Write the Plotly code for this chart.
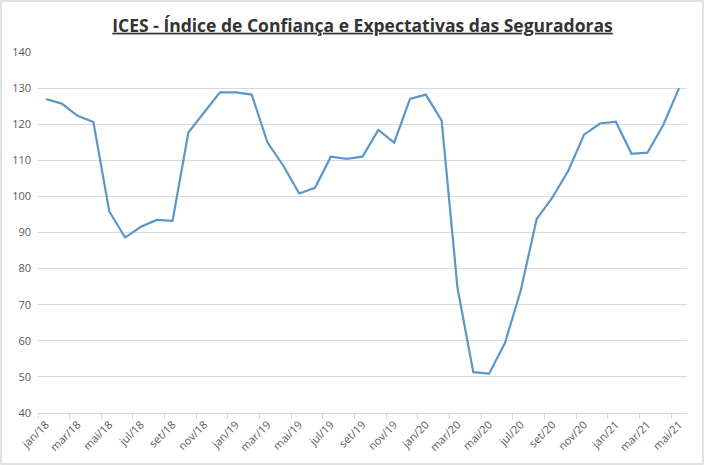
import plotly.graph_objects as go

# meses (jan/18 a mai/21)
meses = ["jan/18", "fev/18", "mar/18", "abr/18", "mai/18", "jun/18", "jul/18", "ago/18",
         "set/18", "out/18", "nov/18", "dez/18",
         "jan/19", "fev/19", "mar/19", "abr/19", "mai/19", "jun/19", "jul/19", "ago/19",
         "set/19", "out/19", "nov/19", "dez/19",
         "jan/20", "fev/20", "mar/20", "abr/20", "mai/20", "jun/20", "jul/20", "ago/20",
         "set/20", "out/20", "nov/20", "dez/20",
         "jan/21", "fev/21", "mar/21", "abr/21", "mai/21"]

# valores do ICES
ices = [127.0, 125.7, 122.3, 120.6, 95.9, 88.6, 91.6, 93.5, 93.2, 117.7, 123.3, 128.8,
        128.8, 128.2, 114.9, 108.5, 100.8, 102.4, 111.0, 110.4, 111.0, 118.4, 114.9, 127.0,
        128.2, 121.0, 74.7, 51.3, 50.9, 59.4, 74.0, 93.7, 99.7, 107.1, 117.1, 120.2,
        120.7, 111.8, 112.1, 119.8, 130.0]

titulo = "ICES - Índice de Confiança e Expectativas das Seguradoras"

fig = go.Figure(go.Scatter(x=meses, y=ices, mode="lines",
                           line=dict(color="#5b97c9", width=2.2)))

fig.update_layout(
    width=704, height=465,
    margin=dict(l=38, r=17, t=52, b=52),
    paper_bgcolor="white", plot_bgcolor="white",
    showlegend=False,
    font=dict(family="Open Sans", color="#595959", size=11),
    title=dict(text="<u><b>" + titulo + "</b></u>", x=0.5, xref="paper", xanchor="center",
               y=0.945, yanchor="middle",
               font=dict(family="Open Sans", size=17.5, color="#333333")),
)

fig.update_xaxes(type="category", tickmode="linear", dtick=2, tickson="boundaries",
                 tickangle=-45, ticks="outside", ticklen=5, tickcolor="#d9d9d9",
                 showline=True, linecolor="#d9d9d9", linewidth=1,
                 showgrid=False, range=[-0.5, 40.5])

fig.update_yaxes(range=[40, 140], dtick=10, showgrid=True, gridcolor="#d9d9d9",
                 gridwidth=1, zeroline=False, showline=False, ticks="",
                 ticklabelstandoff=6)

# borda da área do gráfico
fig.add_shape(type="rect", xref="paper", yref="paper",
              x0=-37 / 649, x1=(703 - 38) / 649, y0=-51 / 360.5, y1=1 + 51 / 360.5,
              line=dict(color="#d9d9d9", width=1.5))

# sem margem do body, para a figura ocupar a janela toda
fig.write_html("out.html", config={"displayModeBar": False},
               post_script="document.body.style.margin='0';")
